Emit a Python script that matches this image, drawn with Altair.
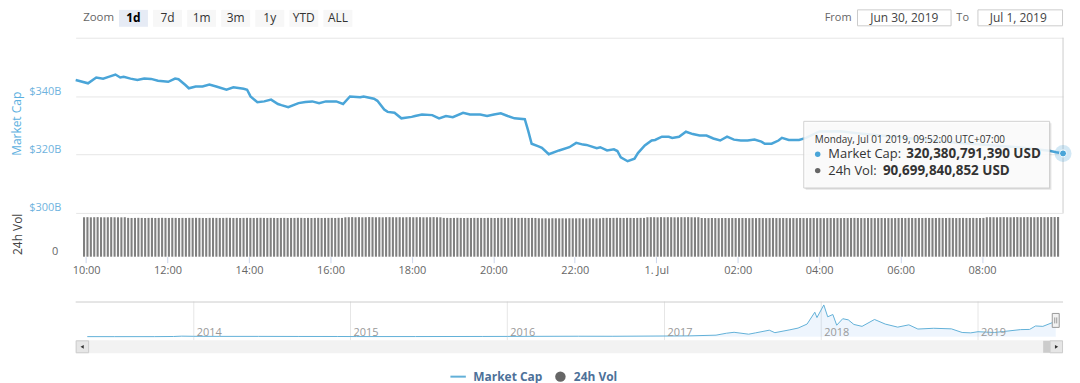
import altair as alt
import pandas as pd

FONT = "Open Sans"
MC_COLOR = "#4aa5d8"
VOL_COLOR = "#808080"

# ---------------- data ----------------
# Market cap, billions USD (Jun 30 09:52 -> Jul 1 09:52, UTC+07)
mc_time_jun30 = ["09:52", "10:10", "10:22", "10:32", "10:40", "10:50", "10:57", "11:02", "11:12", "11:22",
                 "11:32", "11:42", "11:52", "12:07", "12:17", "12:22", "12:32", "12:37", "12:47", "12:57",
                 "13:07", "13:17", "13:32", "13:42", "13:57", "14:02", "14:07", "14:17", "14:27", "14:37",
                 "14:47", "14:52", "15:02", "15:17", "15:27", "15:37", "15:47", "15:57", "16:12", "16:22",
                 "16:32", "16:47", "16:52", "17:07", "17:12", "17:22", "17:27", "17:37", "17:47", "18:02",
                 "18:07", "18:17", "18:32", "18:42", "18:52", "19:02", "19:17", "19:27", "19:42", "19:52",
                 "20:02", "20:12", "20:22", "20:32", "20:47", "20:52", "20:57", "21:07", "21:12", "21:22",
                 "21:37", "21:52", "22:02", "22:12", "22:17", "22:32", "22:37", "22:47", "22:57", "23:02",
                 "23:07", "23:17", "23:27", "23:32", "23:42", "23:52", "23:57"]
mc_value_jun30 = [345.5, 344.4, 346.4, 346.0, 346.6, 347.4, 346.4, 346.6, 346.0, 345.5,
                  346.0, 345.9, 345.3, 344.9, 346.0, 345.8, 343.8, 342.7, 343.3, 343.3,
                  344.0, 343.3, 342.2, 343.0, 342.5, 342.2, 339.9, 337.9, 338.2, 338.8,
                  337.3, 336.9, 336.2, 337.6, 338.0, 338.2, 337.6, 338.2, 338.2, 337.3,
                  339.9, 339.6, 339.9, 339.1, 338.4, 335.4, 334.6, 334.3, 332.4, 332.9,
                  333.2, 333.7, 333.5, 332.4, 333.2, 332.8, 334.3, 333.7, 333.7, 333.2,
                  333.7, 334.1, 333.2, 332.4, 332.1, 328.1, 323.7, 322.8, 322.3, 320.1,
                  321.4, 322.5, 324.0, 323.4, 323.3, 322.2, 322.5, 321.4, 321.8, 321.2,
                  319.0, 317.7, 318.6, 320.5, 323.1, 324.8, 325.0]
mc_time_jul01 = ["00:07", "00:17", "00:22", "00:32", "00:42", "00:52", "01:02", "01:12", "01:22", "01:32",
                 "01:42", "01:52", "02:02", "02:12", "02:22", "02:32", "02:37", "02:47", "02:57", "03:02",
                 "03:12", "03:27", "03:37", "03:57", "04:27", "04:52", "05:22", "05:52", "06:22", "06:52",
                 "07:17", "07:47", "08:17", "08:47", "09:12", "09:32", "09:42", "09:52"]
mc_value_jul01 = [326.1, 326.1, 325.7, 326.1, 327.8, 327.0, 326.5, 326.5, 325.5, 324.8,
                  326.1, 325.1, 324.8, 324.8, 325.1, 324.4, 323.7, 323.7, 324.8, 325.7,
                  325.0, 325.0, 325.7, 327.9, 328.0, 327.3, 326.6, 326.0, 325.2, 324.6,
                  324.0, 323.5, 323.0, 322.5, 321.8, 321.3, 320.8, 320.38]

# 24h volume, billions USD, one bar every 5 minutes (first 09:57 Jun 30)
vol_start = "2019-06-30T09:57"
vol_value = [
    90.1, 90.3, 90.0, 90.2, 90.4, 90.1, 90.0, 90.2, 90.3, 90.1, 90.0, 89.9, 90.2, 88.7, 88.5, 88.6, 88.8, 88.6, 88.4, 88.6, 88.7, 88.5, 88.6, 88.8,
    88.6, 88.5, 88.7, 88.6, 88.4, 88.6, 88.5, 88.7, 88.6, 88.8, 88.6, 88.5, 88.4, 88.6, 88.7, 88.6, 88.5, 88.6, 88.8, 88.7, 88.5, 88.6, 88.4, 88.6,
    88.7, 88.6, 88.5, 88.6, 88.8, 88.6, 88.5, 88.7, 88.6, 88.4, 88.6, 88.7, 88.5, 88.6, 88.6, 88.8, 88.7, 88.5, 88.6, 88.4, 88.6, 88.7, 88.5, 88.6,
    88.6, 88.7, 88.5, 88.8, 88.6, 90.0, 90.2, 90.4, 90.1, 90.3, 90.0, 90.2, 90.5, 90.3, 90.1, 90.2, 90.0, 90.3, 90.4, 90.2, 90.1, 90.3, 90.0, 90.2,
    90.4, 90.1, 90.2, 90.3, 90.0, 90.1, 90.2, 90.4, 90.1, 90.0, 88.7, 88.6, 88.5, 88.6, 88.8, 88.6, 88.4, 88.6, 88.5, 88.7, 88.6, 88.6, 88.5, 88.7,
    88.6, 88.4, 88.6, 88.7, 88.5, 88.6, 88.8, 88.6, 88.5, 88.7, 88.6, 88.4, 88.6, 88.5, 87.9, 87.7, 87.8, 87.6, 87.9, 87.8, 87.7, 87.8, 87.6, 87.9,
    87.8, 87.7, 87.9, 87.8, 87.6, 87.8, 87.9, 87.7, 87.8, 88.6, 88.7, 88.5, 88.6, 88.8, 88.6, 88.5, 88.7, 88.6, 88.4, 88.6, 88.7, 88.6, 90.1, 90.3,
    90.2, 90.0, 90.4, 90.1, 90.3, 90.2, 90.0, 90.1, 90.3, 90.2, 90.4, 90.1, 90.0, 90.2, 88.4, 88.3, 88.2, 88.4, 88.3, 88.1, 88.3, 88.4, 88.2, 88.3,
    88.3, 88.2, 88.4, 88.3, 88.1, 88.3, 88.2, 88.4, 88.3, 88.2, 88.3, 88.5, 88.3, 88.2, 88.4, 88.3, 88.1, 88.3, 88.2, 88.4, 88.3, 88.2, 88.3, 88.4,
    88.2, 88.3, 88.1, 88.3, 88.4, 88.2, 88.3, 88.2, 88.4, 88.3, 88.5, 88.6, 88.4, 88.3, 88.2, 88.4, 88.3, 88.2, 88.3, 88.4, 88.2, 88.3, 88.1, 88.3,
    88.4, 88.5, 88.3, 88.6, 88.4, 88.3, 88.5, 88.4, 88.6, 88.5, 88.3, 88.4, 88.6, 88.5, 88.4, 88.6, 88.5, 88.3, 88.4, 88.6, 88.5, 88.4, 88.6, 88.5,
    88.4, 88.6, 90.1, 90.3, 90.2, 90.0, 90.3, 90.4, 90.2, 90.1, 90.3, 90.4, 90.2, 90.3, 90.5, 90.3, 90.2, 90.4, 90.5, 90.3, 90.4, 90.6, 90.5, 90.7,
]

# Navigator: whole-history market cap, billions USD
nav_date = ["2013-04-28", "2013-07-01", "2013-10-01", "2013-11-15", "2013-12-04", "2014-01-01", "2014-03-01",
            "2014-06-01", "2014-09-01", "2014-12-01", "2015-01-15", "2015-06-01", "2015-11-05", "2016-01-01",
            "2016-06-15", "2016-09-01", "2016-12-31", "2017-03-01", "2017-05-01", "2017-05-25", "2017-06-12",
            "2017-07-16", "2017-08-01", "2017-09-02", "2017-09-15", "2017-10-20", "2017-11-08", "2017-11-29",
            "2017-12-17", "2017-12-22", "2018-01-07", "2018-01-16", "2018-01-28", "2018-02-06", "2018-02-20",
            "2018-03-05", "2018-03-18", "2018-04-06", "2018-05-05", "2018-05-30", "2018-06-28", "2018-07-24",
            "2018-08-14", "2018-09-20", "2018-10-31", "2018-11-25", "2018-12-15", "2019-01-01", "2019-02-08",
            "2019-03-01", "2019-04-10", "2019-05-01", "2019-05-15", "2019-06-01", "2019-06-26", "2019-07-01"]
nav_value = [1.6, 1.0, 1.6, 5, 14, 10, 8,
             8, 6, 5, 3, 3.5, 6, 7,
             12, 11, 17.7, 22, 40, 90, 115,
             65, 100, 170, 105, 180, 225, 330,
             640, 500, 830, 520, 580, 300, 470,
             440, 320, 270, 450, 330, 250, 310,
             200, 220, 205, 110, 100, 130, 110,
             135, 185, 190, 280, 270, 380, 320]
nav_years = ["2014", "2015", "2016", "2017", "2018", "2019"]

x_tick_times = ["2019-06-30T10:00", "2019-06-30T12:00", "2019-06-30T14:00", "2019-06-30T16:00",
                "2019-06-30T18:00", "2019-06-30T20:00", "2019-06-30T22:00", "2019-07-01T00:00",
                "2019-07-01T02:00", "2019-07-01T04:00", "2019-07-01T06:00", "2019-07-01T08:00"]
mc_ticks = [300, 320, 340, 360]

buttons = ["1d", "7d", "1m", "3m", "1y", "YTD", "ALL"]
selected_button = "1d"
date_from = "Jun 30, 2019"
date_to = "Jul 1, 2019"
tooltip_header = "Monday, Jul 01 2019, 09:52:00 UTC+07:00"
tooltip_mc = 320380791390
tooltip_vol = 90699840852
series_names = ["Market Cap", "24h Vol"]

# ---------------- helpers ----------------
W = 992
one = pd.DataFrame({"k": [0]})


def dt(s):
    d, t = s.split("T") if "T" in s else (s, "00:00")
    y, m, dd = [int(v) for v in d.split("-")]
    hh, mm = [int(v) for v in t.split(":")]
    return alt.DateTime(year=y, month=m, date=dd, hours=hh, minutes=mm)


def txt(s, x, y, size, color, align="left", weight="normal"):
    return alt.Chart(one).mark_text(text=s, align=align, baseline="middle", fontSize=size,
                                    color=color, fontWeight=weight, font=FONT).encode(
        x=alt.value(x), y=alt.value(y))


def box(x1, x2, y1, y2, fill, stroke="", opacity=1.0, sw=1):
    kw = dict(fill=fill, opacity=opacity)
    if stroke:
        kw.update(stroke=stroke, strokeWidth=sw)
    else:
        kw.update(strokeWidth=0)
    return alt.Chart(one).mark_rect(**kw).encode(
        x=alt.value(x1), x2=alt.value(x2), y=alt.value(y1), y2=alt.value(y2))


def spacer(h):
    return alt.Chart(one).mark_point(opacity=0, size=1).encode(
        x=alt.value(1), y=alt.value(1)).properties(width=W, height=h)


# ---------------- header (range selector + inputs) ----------------
btn_df = pd.DataFrame({"label": buttons})
bscale = alt.Scale(type="band", domain=buttons, range=[43.5, 278], paddingInner=0.15, paddingOuter=0)
btn_rect = alt.Chart(btn_df).mark_rect(strokeWidth=0).encode(
    x=alt.X("label:N", scale=bscale, axis=None),
    y=alt.value(0), y2=alt.value(17),
    color=alt.condition(alt.datum.label == selected_button, alt.value("#e6ebf5"), alt.value("#f7f7f7")),
)
btn_txt = alt.Chart(btn_df).transform_filter(alt.datum.label != selected_button).mark_text(
    fontSize=12, color="#333333", font=FONT, baseline="middle").encode(
    x=alt.X("label:N", scale=bscale, axis=None, bandPosition=0.5), y=alt.value(8.5), text="label:N")
btn_sel = alt.Chart(btn_df).transform_filter(alt.datum.label == selected_button).mark_text(
    fontSize=12, color="#000000", font=FONT, fontWeight="bold", baseline="middle").encode(
    x=alt.X("label:N", scale=bscale, axis=None, bandPosition=0.5), y=alt.value(8.5), text="label:N")

header = alt.layer(
    # invisible anchor keeping room on the left for the rotated axis titles
    box(-67.5, -60, 0, 1, "#ffffff", opacity=0),
    txt("Zoom", 7.5, 8.5, 11.5, "#666666"),
    btn_rect, btn_txt, btn_sel,
    txt("From", 779.5, 8.5, 11, "#666666", align="right"),
    box(785.5, 879.5, 0, 16, "#ffffff", stroke="#cccccc"),
    txt(date_from, 832.5, 8.5, 12, "#444444", align="center"),
    txt("To", 897.5, 8.5, 11, "#666666", align="right"),
    box(906.5, 991.5, 0, 16, "#ffffff", stroke="#cccccc"),
    txt(date_to, 947, 8.5, 12, "#444444", align="center"),
).properties(width=W, height=28)

# ---------------- main pane: market cap ----------------
mc_time = ["2019-06-30T" + t for t in mc_time_jun30] + ["2019-07-01T" + t for t in mc_time_jul01]
mc_value = mc_value_jun30 + mc_value_jul01
mc_df = pd.DataFrame({"time": mc_time, "value": mc_value})
last_df = mc_df.tail(1)

xscale = alt.Scale(domain=[dt("2019-06-30T09:52"), dt("2019-07-01T09:52")])
mc_y = alt.Y("value:Q", scale=alt.Scale(domain=[300, 360], nice=False, zero=False),
             axis=alt.Axis(values=mc_ticks,
                           labelExpr="datum.value == 360 ? '' : '$' + datum.value + 'B'",
                           grid=True, gridColor="#e6e6e6", domain=False, ticks=False, tickSize=0,
                           labelPadding=15, labelBaseline="alphabetic", labelOffset=-2,
                           labelColor="#6fb3de", labelFont=FONT, labelFontSize=11,
                           title=series_names[0], titleColor="#5cb0e0", titleFont=FONT,
                           titleFontSize=12, titleFontWeight="normal", titleAngle=270,
                           titleX=-59, titleY=86, titleAlign="center", titleBaseline="middle"))

mc_line = alt.Chart(mc_df).mark_line(color=MC_COLOR, strokeWidth=2.5).encode(
    x=alt.X("time:T", scale=xscale, axis=None), y=mc_y)
crosshair = alt.Chart(last_df).mark_rule(color="#cccccc", strokeWidth=1).encode(
    x=alt.X("time:T", scale=xscale, axis=None))
halo = alt.Chart(last_df).mark_circle(color=MC_COLOR, opacity=0.25, size=290).encode(
    x=alt.X("time:T", scale=xscale, axis=None), y=alt.Y("value:Q"))
dot = alt.Chart(last_df).mark_circle(color=MC_COLOR, opacity=1, size=50, stroke="#ffffff",
                                     strokeWidth=1).encode(
    x=alt.X("time:T", scale=xscale, axis=None), y=alt.Y("value:Q"))

tt = [
    box(733.5, 980.5, 86, 153, "#000000", opacity=0.08),
    box(732.5, 979.5, 85, 152, "#000000", opacity=0.06),
    box(731.5, 978.5, 84, 151, "#ffffff", stroke="#cccccc", opacity=0.88),
    txt(tooltip_header, 742.5, 103, 10, "#333333"),
    alt.Chart(one).mark_circle(color=MC_COLOR, size=30, opacity=1).encode(x=alt.value(745.5), y=alt.value(117)),
    txt(series_names[0] + ": ", 756.2, 117, 13, "#333333"),
    txt(f"{tooltip_mc:,} USD", 834.5, 117, 13.5, "#333333", weight="bold"),
    alt.Chart(one).mark_circle(color="#666666", size=30, opacity=1).encode(x=alt.value(745.5), y=alt.value(133.5)),
    txt(series_names[1] + ": ", 756.2, 133.5, 13, "#333333"),
    txt(f"{tooltip_vol:,} USD", 811, 133.5, 13.5, "#333333", weight="bold"),
]

main = alt.layer(mc_line, crosshair, halo, dot, *tt).properties(width=W, height=176)

# ---------------- volume pane ----------------
vol_df = pd.DataFrame({"time": pd.date_range(vol_start, periods=len(vol_value), freq="5min"),
                       "vol": vol_value})
vol = alt.Chart(vol_df).mark_bar(width=2.1, color=VOL_COLOR).encode(
    x=alt.X("time:T", scale=xscale,
            axis=alt.Axis(values=[dt(t) for t in x_tick_times],
                          labelExpr="hours(datum.value) == 0 ? '1. Jul' : timeFormat(datum.value, '%H:%M')",
                          grid=False, domain=False, ticks=True, tickColor="#ccd6eb", tickSize=6,
                          labelPadding=2, labelFont=FONT, labelFontSize=11, labelColor="#666666",
                          labelFlush=False, labelOverlap=False, title=None)),
    y=alt.Y("vol:Q", scale=alt.Scale(domain=[0, 100], nice=False),
            axis=alt.Axis(values=[0], grid=False, domain=False, ticks=False, tickSize=0,
                          labelPadding=18, labelBaseline="alphabetic", labelOffset=-2,
                          labelColor="#666666", labelFont=FONT, labelFontSize=11,
                          title=series_names[1], titleColor="#444444", titleFont=FONT,
                          titleFontSize=12, titleFontWeight="normal", titleAngle=270,
                          titleX=-58.5, titleY=21, titleAlign="center", titleBaseline="middle")),
).properties(width=W, height=44)

# ---------------- navigator ----------------
nav_df = pd.DataFrame({"date": [d + "T00:00" for d in nav_date], "value": nav_value})
years_df = pd.DataFrame({"date": [y + "-01-01T00:00" for y in nav_years], "year": nav_years})
nav_x = alt.Scale(domain=[dt("2013-04-01"), dt("2019-07-18")])
nav_y = alt.Scale(domain=[-95, 920], nice=False, zero=False)

nav_grid = alt.Chart(years_df).mark_rule(color="#e6e6e6", strokeWidth=1).encode(
    x=alt.X("date:T", scale=nav_x, axis=None))
nav_area = alt.Chart(nav_df).mark_area(color="#7cb5ec", fillOpacity=0.13, strokeWidth=0).encode(
    x=alt.X("date:T", scale=nav_x, axis=None), y=alt.Y("value:Q", scale=nav_y, axis=None))
nav_line = alt.Chart(nav_df).mark_line(color="#62b0d8", strokeWidth=1).encode(
    x=alt.X("date:T", scale=nav_x, axis=None), y=alt.Y("value:Q", scale=nav_y, axis=None))
nav_labels = alt.Chart(years_df).mark_text(align="left", baseline="alphabetic", dx=3, fontSize=11,
                                           color="#999999", font=FONT).encode(
    x=alt.X("date:T", scale=nav_x, axis=None), y=alt.value(35), text="year:N")
nav_top = alt.Chart(one).mark_rule(color="#cccccc", strokeWidth=1).encode(
    x=alt.value(0), x2=alt.value(W), y=alt.value(0.5))
handle = alt.Chart(one).mark_rect(fill="#f2f2f2", stroke="#999999", strokeWidth=1,
                                  xOffset=-3.5, x2Offset=3.5).encode(
    x=alt.X(datum=dt("2019-07-01"), type="temporal", scale=nav_x, axis=None),
    x2=alt.X2(datum=dt("2019-07-01")),
    y=alt.value(12), y2=alt.value(26))
handle_l1 = alt.Chart(one).mark_rule(color="#999999", strokeWidth=1, xOffset=-1).encode(
    x=alt.X(datum=dt("2019-07-01"), type="temporal", scale=nav_x, axis=None),
    y=alt.value(16), y2=alt.value(22))
handle_l2 = alt.Chart(one).mark_rule(color="#999999", strokeWidth=1, xOffset=1).encode(
    x=alt.X(datum=dt("2019-07-01"), type="temporal", scale=nav_x, axis=None),
    y=alt.value(16), y2=alt.value(22))

navigator = alt.layer(nav_grid, nav_area, nav_line, nav_labels, nav_top, handle, handle_l1, handle_l2
                      ).properties(width=W, height=39)

# ---------------- scrollbar ----------------
scroll = alt.layer(
    box(0, W, 0, 13, "#f2f2f2"),
    box(972, 979, 0.5, 12.5, "#cccccc"),
    box(0.5, 13, 0.5, 12.5, "#e6e6e6", stroke="#cccccc"),
    box(979, W - 0.5, 0.5, 12.5, "#e6e6e6", stroke="#cccccc"),
    alt.Chart(one).mark_point(shape="triangle-left", filled=True, size=14, color="#333333", opacity=1).encode(
        x=alt.value(6.5), y=alt.value(6.5)),
    alt.Chart(one).mark_point(shape="triangle-right", filled=True, size=14, color="#333333", opacity=1).encode(
        x=alt.value(985.5), y=alt.value(6.5)),
).properties(width=W, height=13)

# ---------------- legend ----------------
LEG = "#4d7199"
legend = alt.layer(
    alt.Chart(one).mark_rule(color="#62b0d8", strokeWidth=2).encode(
        x=alt.value(376.5), x2=alt.value(392), y=alt.value(8.5)),
    txt(series_names[0], 399.5, 8.5, 12, LEG, weight="bold"),
    alt.Chart(one).mark_circle(color="#666666", size=110, opacity=1).encode(x=alt.value(487), y=alt.value(8.5)),
    txt(series_names[1], 500.5, 8.5, 12, LEG, weight="bold"),
).properties(width=W, height=15)

chart = alt.vconcat(header, main, vol, spacer(45), navigator, scroll, spacer(15), legend,
                    spacing=0, bounds="flush").properties(
    padding=0, background="#ffffff"
).configure(font=FONT).configure_view(strokeWidth=0, stroke="transparent")

chart.save("out.html", embed_options={"renderer": "svg", "actions": False})
